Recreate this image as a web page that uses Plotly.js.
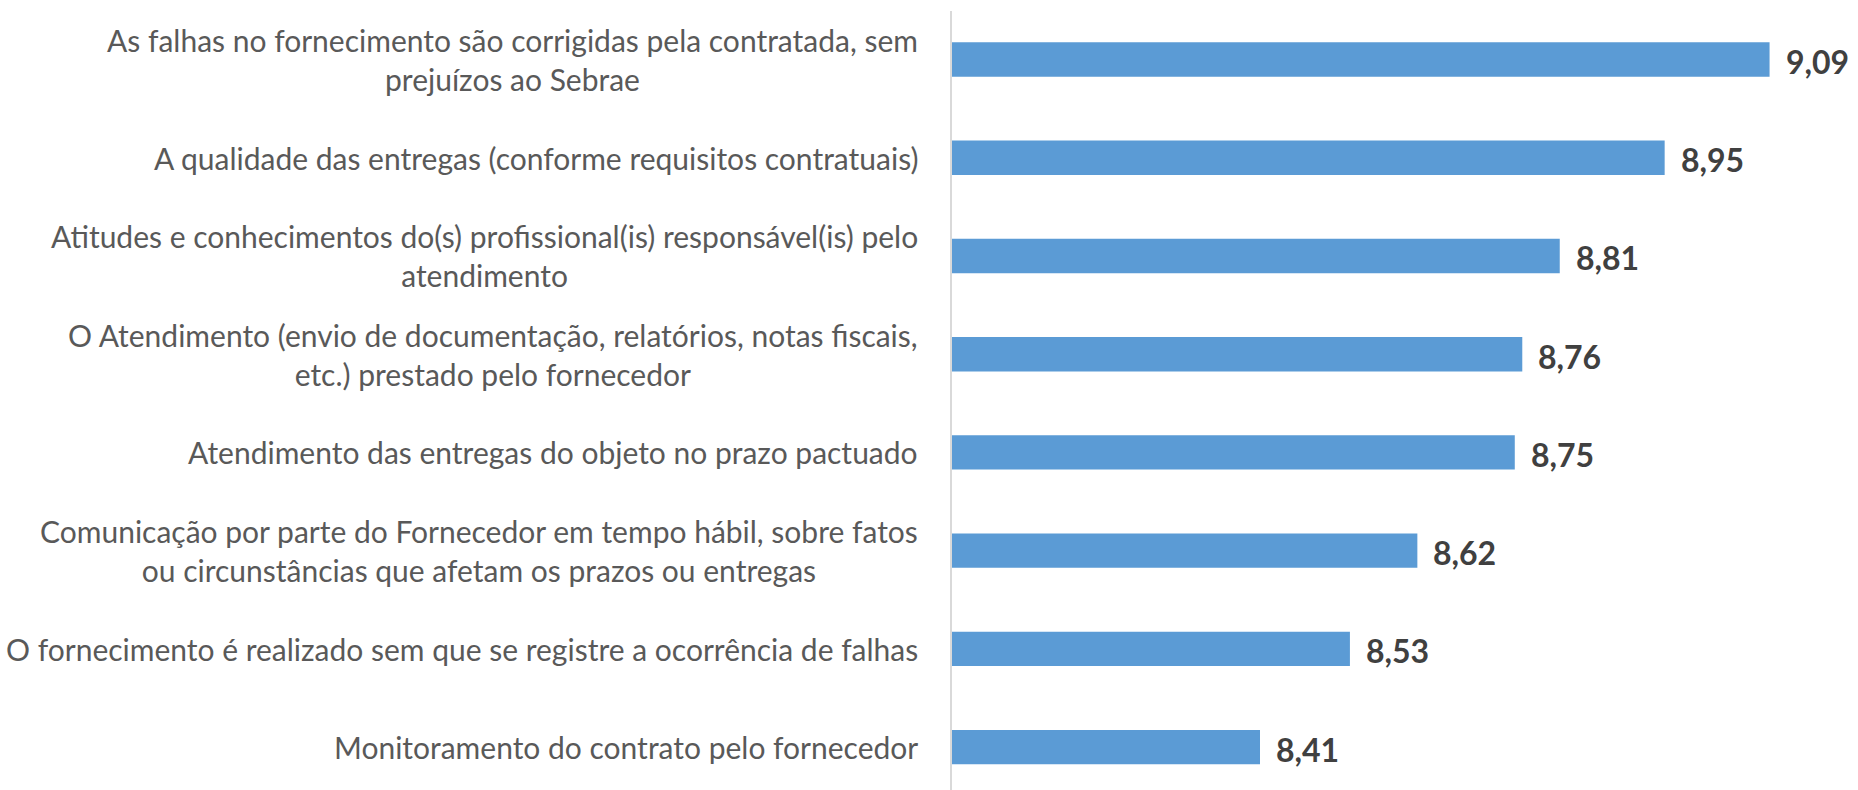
<!DOCTYPE html>
<html>
<head>
<meta charset="utf-8">
<script src="https://cdn.plot.ly/plotly-3.0.1.min.js"></script>
<style>html,body{margin:0;padding:0;background:#fff;}#chart{width:1858px;height:790px;}</style>
</head>
<body>
<div id="chart"></div>
<script>
const categories = [
  "As falhas no fornecimento são corrigidas pela contratada, sem<br>prejuízos ao Sebrae",
  "A qualidade das entregas (conforme requisitos contratuais)",
  "Atitudes e conhecimentos do(s) profissional(is) responsável(is) pelo<br>atendimento",
  "O Atendimento (envio de documentação, relatórios, notas fiscais,<br>etc.) prestado pelo fornecedor",
  "Atendimento das entregas do objeto no prazo pactuado",
  "Comunicação por parte do Fornecedor em tempo hábil, sobre fatos<br>ou circunstâncias que afetam os prazos ou entregas",
  "O fornecimento é realizado sem que se registre a ocorrência de falhas",
  "Monitoramento do contrato pelo fornecedor"
];
const values = [9.09, 8.95, 8.81, 8.76, 8.75, 8.62, 8.53, 8.41];
const valueLabels = ["9,09", "8,95", "8,81", "8,76", "8,75", "8,62", "8,53", "8,41"];

const ids = categories.map((c, i) => "c" + i);

const trace = {
  type: "bar",
  orientation: "h",
  x: values,
  y: ids,
  marker: {color: "#5b9bd5", line: {width: 0}},
  hoverinfo: "none"
};

const annotations = [];
categories.forEach((c, i) => {
  annotations.push({
    xref: "paper", yref: "y", x: 0, y: ids[i],
    xanchor: "right", yanchor: "middle", align: "center",
    xshift: -32, showarrow: false, text: c,
    font: {family: "Lato, sans-serif", size: 30, color: "#595959"}
  });
  annotations.push({
    xref: "x", yref: "y", x: values[i], y: ids[i],
    xanchor: "left", yanchor: "middle",
    xshift: 14, yshift: -2, showarrow: false, text: "<b>" + valueLabels[i] + "</b>",
    font: {family: "Lato, sans-serif", size: 32, color: "#404040"}
  });
});

const layout = {
  width: 1858, height: 790,
  margin: {l: 952, r: 0, t: 11, b: 0, pad: 0},
  paper_bgcolor: "#ffffff", plot_bgcolor: "#ffffff",
  showlegend: false,
  bargap: 0.65,
  xaxis: {range: [7.999, 9.208], showgrid: false, zeroline: false, showticklabels: false, ticks: "", showline: false, fixedrange: true},
  yaxis: {type: "category", range: [7.437, -0.494], showgrid: false, zeroline: false, showticklabels: false, ticks: "",
          showline: true, linecolor: "#d9d9d9", linewidth: 2, fixedrange: true},
  annotations: annotations
};

Plotly.newPlot("chart", [trace], layout, {staticPlot: true, displayModeBar: false});
</script>
</body>
</html>
